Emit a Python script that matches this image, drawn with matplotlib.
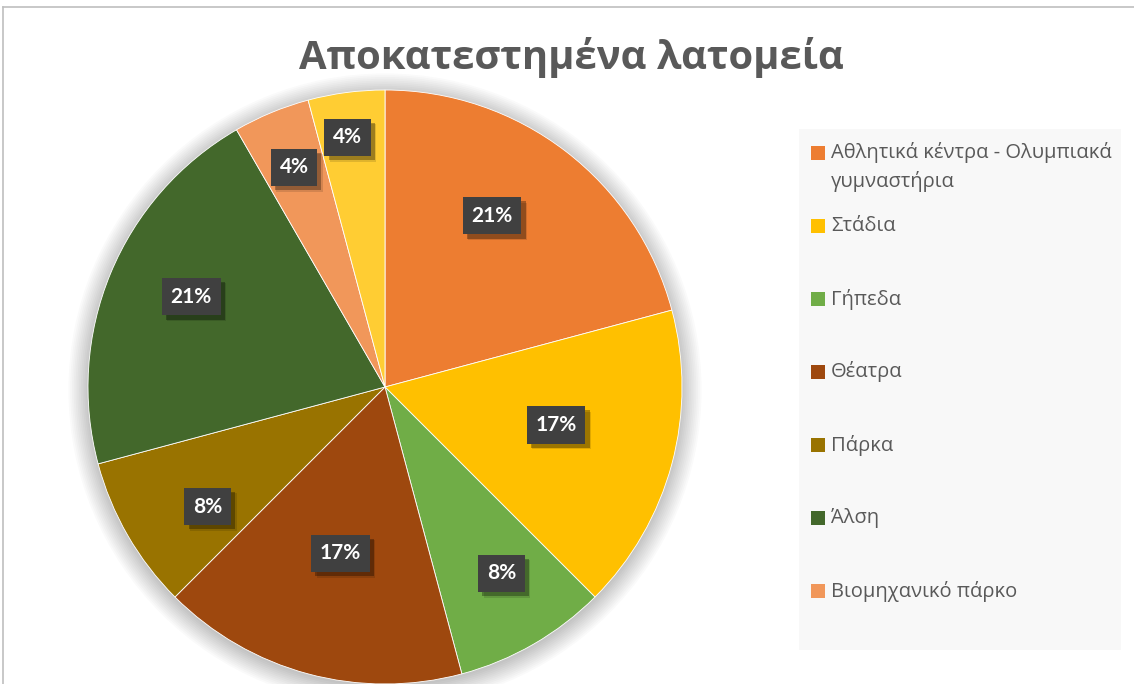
# Pie chart: restored quarries by reuse type

import matplotlib.pyplot as plt
import matplotlib.patheffects as pe
from matplotlib.patches import Rectangle, Circle
import numpy as np

plt.rcParams['font.family'] = ['Open Sans', 'DejaVu Sans']
plt.rcParams['hatch.color'] = '#535353'
plt.rcParams['hatch.linewidth'] = 1.5

# data
title = 'Αποκατεστημένα λατομεία'
categories = ['Αθλητικά κέντρα - Ολυμπιακά\nγυμναστήρια', 'Στάδια', 'Γήπεδα', 'Θέατρα',
              'Πάρκα', 'Άλση', 'Βιομηχανικό πάρκο', '']
counts = [5, 4, 2, 4, 2, 5, 1, 1]
colors = ['#ED7D31', '#FFC000', '#70AD47', '#9E480E', '#997300', '#43682B', '#F1975A', '#FFCD33']
n_legend = 7  # last entry is cut off in the original

# label placement: fraction of radius, and small angle shift (deg) from the wedge middle
label_r = [0.68, 0.59, 0.74, 0.58, 0.72, 0.72, 0.80, 0.85]
label_shift = [5.5, 2.5, 2, 0, 4, -2.5, 0, 1]


class BoxShadow(pe.AbstractPathEffect):
    """plain drop shadow for the label boxes (no hatch copied)"""
    def __init__(self, offset=(3, -3), alpha=0.3):
        super().__init__(offset)
        self.alpha = alpha

    def draw_path(self, renderer, gc, tpath, affine, rgbFace):
        gc0 = renderer.new_gc()
        gc0.copy_properties(gc)
        gc0.set_hatch(None)
        gc0.set_linewidth(0)
        gc0.set_alpha(self.alpha)
        renderer.draw_path(gc0, tpath, affine + self._offset_transform(renderer), (0, 0, 0))
        gc0.restore()


fig = plt.figure(figsize=(11.34, 6.84), dpi=100)

# chart frame (left and top border visible)
fig.add_artist(plt.Line2D([3/1134, 3/1134], [0, 1 - 7/684], color='#BFBFBF', lw=1.2))
fig.add_artist(plt.Line2D([3/1134, 1], [1 - 7/684, 1 - 7/684], color='#BFBFBF', lw=1.2))

ax = fig.add_axes([88/1134, 0.0, 594/1134, 594/684])
ax.axis('off')

# soft shadow behind the pie
for k in range(12):
    ax.add_patch(Circle((0, -0.01), 1.0 + 0.006*k, color='black', alpha=0.018, lw=0, zorder=0, clip_on=False))

wedges, _ = ax.pie(counts, colors=colors, startangle=90, counterclock=False, radius=1.0,
                   wedgeprops=dict(edgecolor='white', linewidth=0.6), frame=False)
ax.set_xlim(-1, 1)
ax.set_ylim(-1, 1)

total = sum(counts)
for w, c, rf, sh in zip(wedges, counts, label_r, label_shift):
    mid = np.deg2rad((w.theta1 + w.theta2) / 2 + sh)
    x, y = rf*np.cos(mid), rf*np.sin(mid)
    t = ax.text(x, y, f'{round(100*c/total)}%', ha='center', va='center', color='white',
                fontsize=15, fontweight='bold', family=['Lato', 'DejaVu Sans'], zorder=5,
                bbox=dict(boxstyle='square,pad=0.42', fc='#404040', ec='#404040', lw=0, hatch='..'))
    t.get_bbox_patch().set_path_effects([BoxShadow(offset=(3, -3), alpha=0.3),
                                         BoxShadow(offset=(4, -4), alpha=0.12),
                                         pe.Normal()])

fig.text(571/1134, 1 - 58/684, title, ha='center', va='center', fontsize=28.8,
         fontweight='bold', color='#595959')

# legend box drawn by hand
fig.add_artist(Rectangle((799/1134, 1 - 650/684), 322/1134, 521/684, transform=fig.transFigure,
                         fc='#F8F8F8', ec='none'))
y0 = 153
step = 73
for i in range(n_legend):
    ys = 1 - (y0 + i*step)/684
    fig.add_artist(Rectangle((811/1134, ys - 7/684), 14/1134, 14/684, transform=fig.transFigure,
                             fc=colors[i], ec='none'))
    fig.text(831/1134, ys + 11/684 if '\n' in categories[i] else ys, categories[i], ha='left',
             va='top' if '\n' in categories[i] else 'center',
             fontsize=14.5, color='#595959', linespacing=1.5)

plt.savefig('out.png', dpi=100)
